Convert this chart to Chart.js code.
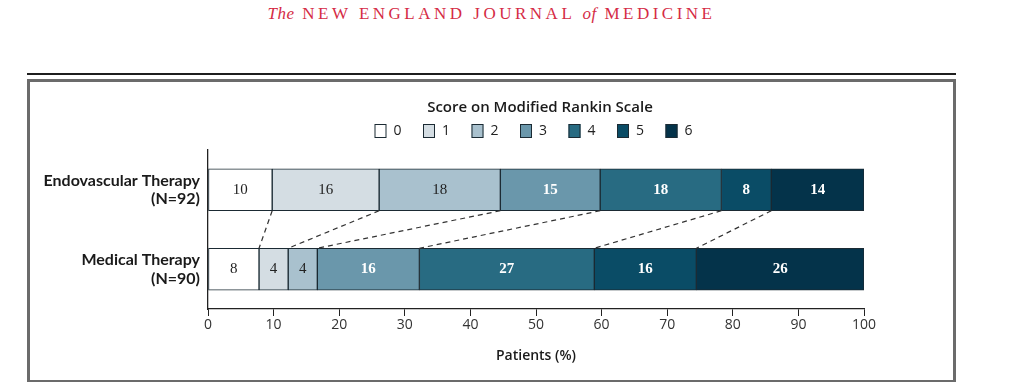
<!DOCTYPE html>
<html lang="en">
<head>
    <meta charset="UTF-8">
    <title>Modified Rankin Scale</title>
    <style>
        body {
            margin: 0;
            padding: 0;
            background-color: #fff;
            width: 1013px;
            height: 382px;
            overflow: hidden;
            position: relative;
        }
        .masthead {
            position: absolute;
            left: 0;
            width: 983px;
            top: 4px;
            text-align: center;
            font-family: "Liberation Serif", serif;
            font-size: 17px;
            letter-spacing: 3.5px;
            color: #d52b45;
        }
        .masthead i {
            letter-spacing: 0.5px;
        }
        .rule {
            position: absolute;
            left: 27px;
            top: 73px;
            width: 929px;
            height: 2px;
            background-color: #1e1e1e;
        }
        .frame {
            position: absolute;
            left: 27px;
            top: 79px;
            width: 929px;
            height: 304px;
            box-sizing: border-box;
            border: 3px solid #6b6b6b;
        }
        #mrsChart {
            position: absolute;
            left: 0;
            top: 0;
        }
    </style>
    <script src="https://cdn.jsdelivr.net/npm/chart.js"></script>
</head>
<body>
    <div class="masthead"><i>The</i> NEW ENGLAND JOURNAL <i>of</i> MEDICINE</div>
    <div class="rule"></div>
    <div class="frame"></div>
    <canvas id="mrsChart" width="1013" height="382"></canvas>
    <script>
        // data (patients per score, percentages shown in the bars)
        const groupLabels = [['Endovascular Therapy', '(N=92)'], ['Medical Therapy', '(N=90)']];
        const groupSizes = [92, 90];
        const scoreLabels = ['0', '1', '2', '3', '4', '5', '6'];
        const endovascularCounts = [9, 15, 17, 14, 17, 7, 13];
        const medicalCounts = [7, 4, 4, 14, 24, 14, 23];
        const xTicks = [0, 10, 20, 30, 40, 50, 60, 70, 80, 90, 100];

        const scoreColors = ['#ffffff', '#d4dde3', '#a9c1ce', '#6a97ab', '#286b82', '#0a4c66', '#04334a'];
        const labelColors = ['#222', '#222', '#222', '#fff', '#fff', '#fff', '#fff'];

        const sansFont = '"Open Sans", "DejaVu Sans", sans-serif';
        const narrowFont = '"Liberation Sans Narrow", "Open Sans", sans-serif';

        function pct(count, n) {
            return count / n * 100;
        }

        const datasets = scoreLabels.map((s, i) => ({
            label: s,
            data: [pct(endovascularCounts[i], groupSizes[0]), pct(medicalCounts[i], groupSizes[1])],
            backgroundColor: scoreColors[i],
            borderColor: '#1b2a33',
            borderWidth: 1,
            borderSkipped: false,
            barThickness: 42
        }));

        // legend drawn above the plot, centred on the chart area
        const rankinLegend = {
            id: 'rankinLegend',
            afterDraw(chart) {
                const ctx = chart.ctx;
                const cx = (chart.chartArea.left + chart.chartArea.right) / 2 + 4;
                ctx.save();
                ctx.fillStyle = '#1a1a1a';
                ctx.textAlign = 'center';
                ctx.textBaseline = 'middle';
                ctx.font = '600 15px ' + sansFont;
                ctx.fillText('Score on Modified Rankin Scale', cx, 108);

                const pitch = 48.5;
                const startX = cx - pitch * 3 - 20;
                ctx.font = '14px ' + narrowFont;
                ctx.textAlign = 'left';
                scoreLabels.forEach((s, i) => {
                    const x = startX + i * pitch;
                    ctx.fillStyle = scoreColors[i];
                    ctx.fillRect(x, 124, 12, 14);
                    ctx.strokeStyle = '#1b2a33';
                    ctx.lineWidth = 1;
                    ctx.strokeRect(x + 0.5, 124.5, 11, 13);
                    ctx.fillStyle = '#222';
                    ctx.fillText(s, x + 19, 131.5);
                });
                ctx.restore();
            }
        };

        // dashed lines joining matching score boundaries, plus the percentages
        const barExtras = {
            id: 'barExtras',
            afterDatasetsDraw(chart) {
                const ctx = chart.ctx;
                const xs = chart.scales.x;
                const top = chart.getDatasetMeta(0).data[0];
                const bottom = chart.getDatasetMeta(0).data[1];
                const y1 = top.y + top.height / 2;
                const y2 = bottom.y - bottom.height / 2;

                ctx.save();
                ctx.strokeStyle = '#333';
                ctx.lineWidth = 1.2;
                ctx.setLineDash([5, 4]);
                let cumA = 0, cumB = 0;
                for (let i = 0; i < scoreLabels.length - 1; i++) {
                    cumA += datasets[i].data[0];
                    cumB += datasets[i].data[1];
                    ctx.beginPath();
                    ctx.moveTo(xs.getPixelForValue(cumA), y1);
                    ctx.lineTo(xs.getPixelForValue(cumB), y2);
                    ctx.stroke();
                }
                ctx.setLineDash([]);

                ctx.textAlign = 'center';
                ctx.textBaseline = 'middle';
                chart.data.datasets.forEach((ds, i) => {
                    chart.getDatasetMeta(i).data.forEach((bar, j) => {
                        ctx.fillStyle = labelColors[i];
                        ctx.font = (i >= 3 ? 'bold ' : '') + '15px "Liberation Serif", serif';
                        ctx.fillText(String(Math.round(ds.data[j])), (bar.x + bar.base) / 2, bar.y);
                    });
                });
                ctx.restore();
            }
        };

        new Chart(document.getElementById('mrsChart'), {
            type: 'bar',
            data: {
                labels: groupLabels,
                datasets: datasets
            },
            options: {
                indexAxis: 'y',
                responsive: false,
                animation: false,
                devicePixelRatio: 1,
                layout: {
                    padding: { top: 150, right: 149, bottom: 0, left: 0 }
                },
                plugins: {
                    legend: { display: false },
                    tooltip: { enabled: false }
                },
                scales: {
                    x: {
                        stacked: true,
                        min: 0,
                        max: 100,
                        afterBuildTicks(scale) {
                            scale.ticks = xTicks.map(v => ({ value: v }));
                        },
                        afterFit(scale) {
                            scale.height = 73;
                        },
                        grid: {
                            drawOnChartArea: false,
                            drawTicks: true,
                            tickLength: 7,
                            color: '#222'
                        },
                        border: { display: true, color: '#222', width: 1.3 },
                        ticks: {
                            color: '#333',
                            padding: 1,
                            maxRotation: 0,
                            font: { family: narrowFont, size: 14 }
                        },
                        title: {
                            display: true,
                            text: 'Patients (%)',
                            color: '#1a1a1a',
                            font: { family: sansFont, size: 14, weight: '600' },
                            padding: { top: 0, bottom: 18 }
                        }
                    },
                    y: {
                        stacked: true,
                        afterFit(scale) {
                            scale.width = 208;
                        },
                        grid: { display: false },
                        border: { display: true, color: '#222', width: 1.3 },
                        ticks: {
                            color: '#1a1a1a',
                            padding: 0,
                            font: { family: '"Lato", "Open Sans", sans-serif', size: 16, weight: 'bold', lineHeight: 1.15 }
                        }
                    }
                }
            },
            plugins: [rankinLegend, barExtras]
        });
    </script>
</body>
</html>
